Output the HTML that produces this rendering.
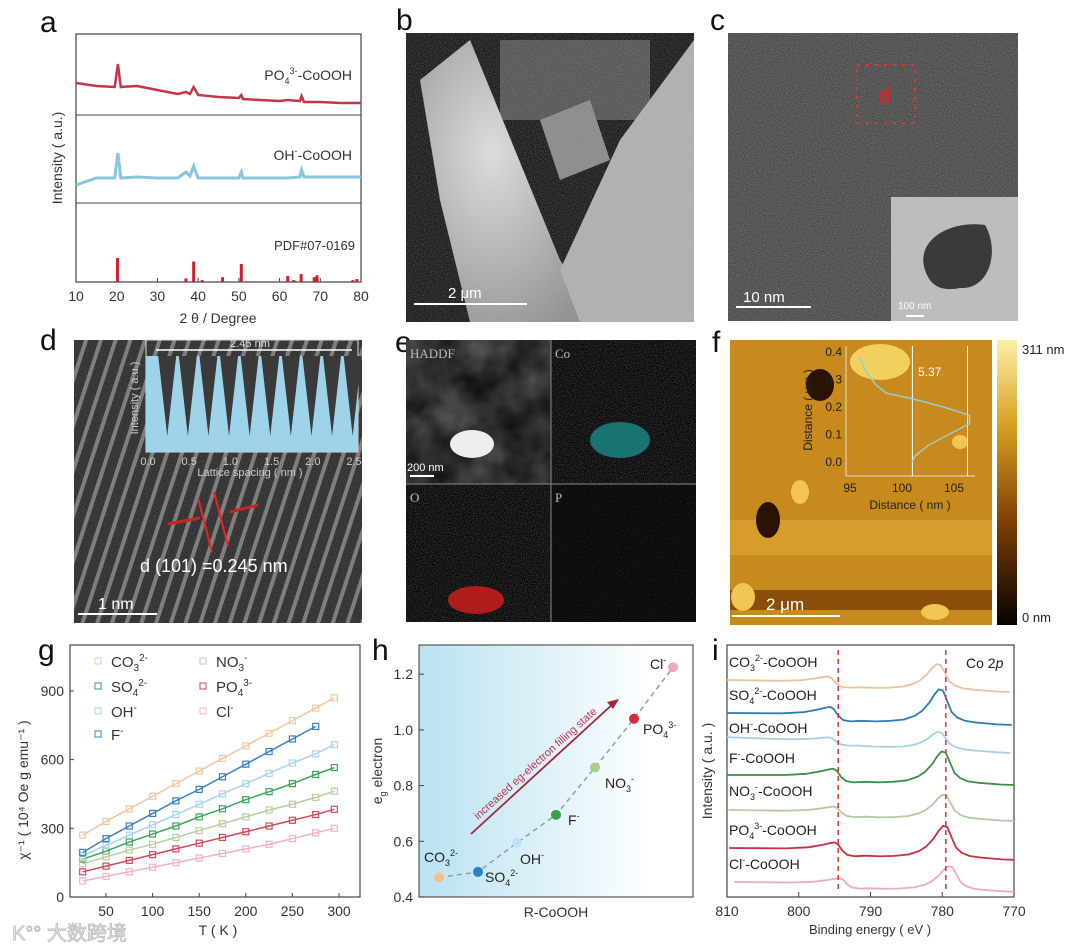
<!DOCTYPE html>
<html><head><meta charset="utf-8"><style>
html,body{margin:0;padding:0;background:#fff}
svg{display:block;font-family:"Liberation Sans",Arial,sans-serif}
</style></head><body>
<svg id="fig" width="1080" height="949" viewBox="0 0 1080 949" xmlns="http://www.w3.org/2000/svg">
<defs>
<filter id="noise" x="0" y="0" width="100%" height="100%"><feTurbulence type="fractalNoise" baseFrequency="0.9" numOctaves="2" seed="3"/><feColorMatrix type="matrix" values="0 0 0 0 0.5 0 0 0 0 0.5 0 0 0 0 0.5 0 0 0 1.2 -0.4"/></filter>
<filter id="blob" x="0" y="0" width="100%" height="100%"><feTurbulence type="fractalNoise" baseFrequency="0.03" numOctaves="3" seed="7"/><feColorMatrix type="saturate" values="0"/></filter>
<pattern id="stripes" width="14" height="14" patternUnits="userSpaceOnUse" patternTransform="rotate(18)"><rect width="14" height="14" fill="#2e2e2e"/><rect x="3" width="4" height="14" fill="#7a7a7a"/></pattern>
<linearGradient id="hbg" x1="0" x2="1"><stop offset="0" stop-color="#b9e2f2"/><stop offset="0.85" stop-color="#ffffff"/></linearGradient>
<linearGradient id="cbar" x1="0" y1="1" x2="0" y2="0"><stop offset="0" stop-color="#050200"/><stop offset="0.35" stop-color="#7a3d05"/><stop offset="0.7" stop-color="#d9a021"/><stop offset="1" stop-color="#fbf0a8"/></linearGradient>
<radialGradient id="semg" cx="0.4" cy="0.4" r="0.7"><stop offset="0" stop-color="#e0e0e0"/><stop offset="1" stop-color="#909090"/></radialGradient>
<clipPath id="iclip"><rect x="727" y="645" width="287" height="252"/></clipPath>
</defs>

<g font-size="30" fill="#111">
<text x="40" y="32">a</text><text x="396" y="30">b</text><text x="710" y="30">c</text>
<text x="40" y="350">d</text><text x="395" y="352">e</text><text x="712" y="352">f</text>
<text x="38" y="660">g</text><text x="372" y="660">h</text><text x="712" y="660">i</text>
</g>

<g id="pa">
<rect x="76" y="34" width="285" height="248" fill="none" stroke="#444" stroke-width="1.2"/>
<line x1="76" y1="115" x2="361" y2="115" stroke="#444"/>
<line x1="76" y1="203" x2="361" y2="203" stroke="#444"/>
<text x="352" y="80" font-size="14" text-anchor="end" fill="#333">PO<tspan font-size="9" dy="4">4</tspan><tspan font-size="9" dy="-10">3-</tspan><tspan dy="6">-CoOOH</tspan></text>
<text x="352" y="160" font-size="14" text-anchor="end" fill="#333">OH<tspan font-size="9" dy="-6">-</tspan><tspan dy="6">-CoOOH</tspan></text>
<text x="355" y="250" font-size="13" text-anchor="end" fill="#333">PDF#07-0169</text>
<text transform="translate(62,158) rotate(-90)" font-size="14" text-anchor="middle" fill="#333">Intensity ( a.u.)</text>
<text x="218" y="323" font-size="14" text-anchor="middle" fill="#333">2 θ / Degree</text>
</g>

<g>
<rect x="406" y="33" width="288" height="289" fill="#1a1a1a"/>
<rect x="500" y="40" width="150" height="80" fill="#555"/>
<polygon points="420,80 470,40 560,260 600,322 470,322 440,200" fill="url(#semg)"/>
<polygon points="560,270 620,140 694,40 694,322 580,322" fill="#b0b0b0"/>
<polygon points="540,120 590,100 610,160 560,180" fill="#8a8a8a"/>
<rect x="406" y="33" width="288" height="289" filter="url(#noise)" opacity="0.5"/>
<line x1="414" y1="304" x2="527" y2="304" stroke="#fff" stroke-width="2"/>
<text x="448" y="298" font-size="15" fill="#fff">2 μm</text>
</g>

<g>
<rect x="728" y="33" width="290" height="288" fill="#4a4a4a"/>
<rect x="728" y="33" width="290" height="288" filter="url(#noise)" opacity="0.6"/>
<rect x="857" y="65" width="58" height="58" fill="none" stroke="#d33" stroke-width="2" stroke-dasharray="3,6"/>
<text x="878" y="103" font-size="20" fill="#d22" font-weight="bold">d</text>
<rect x="891" y="197" width="127" height="124" fill="#bdbdbd"/>
<path d="M925,270 C915,240 950,220 985,225 C1000,250 990,290 960,288 C940,292 930,285 925,270Z" fill="#3a3a3a"/>
<line x1="906" y1="316" x2="924" y2="316" stroke="#fff" stroke-width="2"/>
<text x="898" y="309" font-size="10" fill="#fff">100 nm</text>
<line x1="736" y1="307" x2="811" y2="307" stroke="#fff" stroke-width="2"/>
<text x="743" y="302" font-size="15" fill="#fff">10 nm</text>
</g>

<g>
<rect x="74" y="340" width="288" height="283" fill="url(#stripes)"/>
<rect x="74" y="340" width="288" height="283" filter="url(#noise)" opacity="0.35"/>
<rect x="146" y="340" width="212" height="112" fill="none" stroke="#ddd"/>
<g id="dspikes"></g>
<line x1="156" y1="350" x2="352" y2="350" stroke="#fff" stroke-width="1.5"/>
<text x="250" y="347" font-size="11" fill="#ddd" text-anchor="middle">2.45 nm</text>
<text x="250" y="476" font-size="11" fill="#ccc" text-anchor="middle">Lattice spacing ( nm )</text>
<text transform="translate(138,398) rotate(-90)" font-size="11" fill="#ccc" text-anchor="middle">Intensity ( a.u.)</text>
<line x1="198" y1="498" x2="212" y2="552" stroke="#e22" stroke-width="2"/>
<line x1="214" y1="492" x2="228" y2="546" stroke="#e22" stroke-width="2"/>
<line x1="168" y1="524" x2="200" y2="518" stroke="#c22" stroke-width="3"/>
<line x1="258" y1="505" x2="230" y2="512" stroke="#c22" stroke-width="3"/>
<text x="140" y="572" font-size="18" fill="#fff">d (101) =0.245 nm</text>
<line x1="78" y1="614" x2="157" y2="614" stroke="#fff" stroke-width="2"/>
<text x="98" y="609" font-size="16" fill="#fff">1 nm</text>
</g>

<g>
<rect x="406" y="340" width="290" height="282" fill="#050505"/>
<rect x="406" y="340" width="145" height="144" filter="url(#blob)" opacity="0.45"/>
<ellipse cx="472" cy="444" rx="22" ry="14" fill="#eee"/>
<rect x="551" y="340" width="145" height="144" fill="#00b0b0" filter="url(#noise)" opacity="0.5"/>
<ellipse cx="620" cy="440" rx="30" ry="18" fill="#1a8a8a" opacity="0.8"/>
<rect x="406" y="484" width="145" height="138" fill="#c01010" filter="url(#noise)" opacity="0.5"/>
<ellipse cx="476" cy="600" rx="28" ry="14" fill="#b01c1c"/>
<rect x="551" y="484" width="145" height="138" fill="#aaa020" filter="url(#noise)" opacity="0.25"/>
<line x1="551" y1="340" x2="551" y2="622" stroke="#888"/><line x1="406" y1="484" x2="696" y2="484" stroke="#888"/>
<text x="410" y="358" font-size="13" fill="#bbb" font-family="Liberation Serif,serif">HADDF</text>
<text x="555" y="358" font-size="13" fill="#bbb" font-family="Liberation Serif,serif">Co</text>
<text x="410" y="502" font-size="13" fill="#bbb" font-family="Liberation Serif,serif">O</text>
<text x="555" y="502" font-size="13" fill="#bbb" font-family="Liberation Serif,serif">P</text>
<text x="407" y="471" font-size="11" fill="#fff">200 nm</text>
<line x1="410" y1="476" x2="434" y2="476" stroke="#fff" stroke-width="2"/>
</g>

<g>
<rect x="730" y="340" width="262" height="285" fill="#c88a1c"/>
<rect x="730" y="590" width="262" height="20" fill="#8a4d0a"/>
<rect x="730" y="520" width="262" height="35" fill="#d79c2a"/>
<ellipse cx="880" cy="362" rx="30" ry="18" fill="#f3cf60"/>
<ellipse cx="820" cy="385" rx="14" ry="16" fill="#2a1205"/>
<ellipse cx="768" cy="520" rx="12" ry="18" fill="#2a1205"/>
<ellipse cx="800" cy="492" rx="9" ry="12" fill="#f2c654"/>
<ellipse cx="743" cy="597" rx="12" ry="14" fill="#f2c654"/>
<ellipse cx="960" cy="442" rx="8" ry="7" fill="#f2c654"/>
<ellipse cx="935" cy="612" rx="14" ry="8" fill="#f2c654"/>
<rect x="997" y="340" width="20" height="285" fill="url(#cbar)"/>
<text x="1022" y="354" font-size="13" fill="#222">311 nm</text>
<text x="1022" y="622" font-size="13" fill="#222">0 nm</text>
<line x1="732" y1="616" x2="840" y2="616" stroke="#fff" stroke-width="2"/>
<text x="766" y="610" font-size="17" fill="#fff">2 μm</text>
<g id="finset"></g>
</g>

<g id="pg"></g>
<g id="ph"></g>
<g id="pi"></g>

<text x="12" y="940" font-size="20" fill="#e8e8e8" stroke="#bbb" stroke-width="0.8" font-family="Liberation Sans,'Noto Sans CJK SC',sans-serif">K°° 大数跨境</text>
</svg>
<script>
const NS='http://www.w3.org/2000/svg';
function mk(parent,tag,attrs,text){const e=document.createElementNS(NS,tag);for(const k in attrs)e.setAttribute(k,attrs[k]);if(text!==undefined)e.textContent=text;parent.appendChild(e);return e;}

const xrdAngles=[10,15,19.5,20.3,21,25,30,35,37,38,38.9,40,45,50,50.6,51,55,60,62,65,65.4,66,70,75,80];
const po4Trace=[83,86,87,64,87,86,90,94,92,94,87,95,97,98,95,99,100,101,100,101,96,102,102,103,103];
const ohTrace=[185,178,178,153,178,177,178,178,172,176,166,178,178,178,172,178,178,178,178,177,170,177,177,177,177];
const pdfPos=[20.2,37,38.9,41,46,50.6,62,63.5,65.3,68.5,69.2,78,79];
const pdfInt=[100,15,85,8,20,75,25,8,33,20,28,8,12];
(function(){
 const g=document.getElementById('pa');
 const X=v=>76+(v-10)*285/70;
 const py=v=>282-v*0.24;
 const xt=[10,20,30,40,50,60,70,80];
 xt.forEach(t=>{const tl=mk(g,'line',{x1:X(t),x2:X(t),y1:282,y2:278,stroke:'#444'});
 
 const tx=mk(g,'text',{x:X(t),y:301,'font-size':14,'text-anchor':'middle',fill:'#333'},t);
 });
 const l1=mk(g,'polyline',{points:xrdAngles.map((a,i)=>X(a)+','+po4Trace[i]).join(' '),fill:'none',stroke:'#c0374a','stroke-width':2.5});
 
 const l2=mk(g,'polyline',{points:xrdAngles.map((a,i)=>X(a)+','+ohTrace[i]).join(' '),fill:'none',stroke:'#86c6de','stroke-width':3});
 
 pdfPos.forEach((p,i)=>{const b=mk(g,'rect',{x:X(p)-1.5,y:py(pdfInt[i]),width:3,height:282-py(pdfInt[i]),fill:'#d02030'});
 });
})();

const latticePeaks=[0.1,0.35,0.6,0.85,1.1,1.35,1.6,1.85,2.1,2.35];
(function(){
 const g=document.getElementById('dspikes');
 const X=v=>148+v*82.4;
 const bg=mk(g,'rect',{x:146,y:356,width:212,height:96,fill:'#9fd3ea'});
 
 latticePeaks.forEach(p=>{const v=mk(g,'polygon',{points:`${X(p)+2},356 ${X(p)+20},356 ${X(p)+11},436`,fill:'#3a3a3a'});
 });
 [0,0.5,1,1.5,2,2.5].forEach(t=>{const tx=mk(g,'text',{x:X(t),y:465,'font-size':11,fill:'#ccc','text-anchor':'middle'},t.toFixed(1));
 });
})();

const profDist=[0.38,0.33,0.28,0.25,0.23,0.2,0.17,0.14,0.1,0.06,0.02,0.0];
const profH=[96,96.5,97.5,98.5,101,104,106.5,106.5,104.5,102.5,101.2,101];
(function(){
 const g=document.getElementById('finset');
 const X=v=>850+(v-95)*10.4, Y=v=>462-v*275;
 mk(g,'line',{x1:846,y1:346,x2:846,y2:476,stroke:'#ddd'});
 mk(g,'line',{x1:846,y1:476,x2:975,y2:476,stroke:'#ddd'});
 [0,0.1,0.2,0.3,0.4].forEach(t=>{const tx=mk(g,'text',{x:842,y:Y(t)+4,'font-size':12,fill:'#222','text-anchor':'end'},t.toFixed(1));
 });
 [95,100,105].forEach(t=>{const tx=mk(g,'text',{x:X(t),y:492,'font-size':12,fill:'#222','text-anchor':'middle'},t);
 });
 mk(g,'text',{x:910,y:509,'font-size':12,fill:'#222','text-anchor':'middle'},'Distance ( nm )');
 mk(g,'text',{transform:'translate(812,410) rotate(-90)','font-size':12,fill:'#222','text-anchor':'middle'},'Distance ( μm )');
 mk(g,'line',{x1:X(101),y1:346,x2:X(101),y2:476,stroke:'#fff'});
 mk(g,'line',{x1:X(106.3),y1:346,x2:X(106.3),y2:476,stroke:'#fff'});
 mk(g,'text',{x:918,y:376,'font-size':12,fill:'#fff'},'5.37');
 const pl=mk(g,'polyline',{points:profDist.map((d,i)=>X(profH[i])+','+Y(d)).join(' '),fill:'none',stroke:'#9cc',"stroke-width":1.5});
 
})();

const gTemps=[25,50,75,100,125,150,175,200,225,250,275,295];
const gNames=['CO3','SO4','OH','F','NO3','PO4','Cl'];
const gColors=['#f0c8a0','#3aa55a','#a8d4ea','#3b7fc0','#b5d0a0','#d2495a','#efb3c4'];
const sCO3=[270,330,385,440,495,550,605,660,715,770,825,870];
const sSO4=[165,200,240,275,310,350,385,425,460,495,535,565];
const sOH=[180,225,270,315,360,405,450,495,540,585,625,665];
const sF=[195,255,310,365,420,470,525,580,635,690,745,null];
const sNO3=[145,175,205,230,260,290,320,350,380,405,435,462];
const sPO4=[110,135,160,185,210,235,260,285,310,335,360,383];
const sCl=[70,90,110,130,150,170,190,210,230,255,280,300];
const gSeries=[sCO3,sSO4,sOH,sF,sNO3,sPO4,sCl];
const gXTicks=[50,100,150,200,250,300];
const gYTicks=[0,300,600,900];
(function(){
 const g=document.getElementById('pg');
 const X=t=>106+(t-50)*0.932, Y=v=>897-v*0.229;
 const fr=mk(g,'rect',{x:70,y:645,width:290,height:252,fill:'none',stroke:'#444','stroke-width':1.2});
 
 gXTicks.forEach(t=>{mk(g,'line',{x1:X(t),x2:X(t),y1:897,y2:893,stroke:'#444'});
 const tx=mk(g,'text',{x:X(t),y:916,'font-size':14,'text-anchor':'middle',fill:'#333'},t);
 });
 gYTicks.forEach(t=>{mk(g,'line',{x1:70,x2:74,y1:Y(t),y2:Y(t),stroke:'#444'});
 const tx=mk(g,'text',{x:64,y:Y(t)+5,'font-size':14,'text-anchor':'end',fill:'#333'},t);
 });
 mk(g,'text',{x:218,y:935,'font-size':14,'text-anchor':'middle',fill:'#333'},'T ( K )');
 mk(g,'text',{transform:'translate(28,790) rotate(-90)','font-size':14,'text-anchor':'middle',fill:'#333'},'χ⁻¹ ( 10⁴ Oe g emu⁻¹ )');
 gSeries.forEach((s,si)=>{
  const pts=[];s.forEach((v,i)=>{if(v!==null)pts.push([X(gTemps[i]),Y(v)]);});
  const ln=mk(g,'polyline',{points:pts.map(p=>p.join(',')).join(' '),fill:'none',stroke:gColors[si],'stroke-width':1.5});
  
  pts.forEach(p=>{const m=mk(g,'rect',{x:p[0]-3,y:p[1]-3,width:6,height:6,fill:'none',stroke:gColors[si],'stroke-width':1.2});
  });
 });
 const leg=[['CO','3','2-',0,95,667],['SO','4','2-',1,95,692],['OH','','-',2,95,717],['F','','-',3,95,740],['NO','3','-',4,200,667],['PO','4','3-',5,200,692],['Cl','','-',6,200,717]];
 leg.forEach(l=>{const m=mk(g,'rect',{x:l[4],y:l[5]-9,width:6,height:6,fill:'none',stroke:gColors[l[3]]});
 
 const t=mk(g,'text',{x:l[4]+16,y:l[5],'font-size':15,fill:'#333'});
 
 t.appendChild(document.createTextNode(l[0]));
 if(l[1]){mk(t,'tspan',{'font-size':10,dy:4},l[1]);mk(t,'tspan',{'font-size':10,dy:-10},l[2]);}else{mk(t,'tspan',{'font-size':10,dy:-6},l[2]);}
 });
})();

const hCats=['CO3','SO4','OH','F','NO3','PO4','Cl'];
const hVals=[0.47,0.49,0.595,0.695,0.865,1.04,1.225];
const hColors=['#f2c08e','#2a80c0','#bfe3f2','#3aa04a','#a8d08a','#d4283c','#f0a8bc'];
const hYTicks=[0.4,0.6,0.8,1.0,1.2];
(function(){
 const g=document.getElementById('ph');
 const X=i=>439+i*39, Y=v=>897-(v-0.4)/0.2*55.7;
 const bg=mk(g,'rect',{x:419,y:645,width:274,height:252,fill:'url(#hbg)',stroke:'#555','stroke-width':1.2});
 
 hYTicks.forEach(t=>{mk(g,'line',{x1:419,x2:424,y1:Y(t),y2:Y(t),stroke:'#444'});
 const tx=mk(g,'text',{x:413,y:Y(t)+5,'font-size':14,'text-anchor':'end',fill:'#333'},t.toFixed(1));
 });
 mk(g,'text',{x:556,y:917,'font-size':14,'text-anchor':'middle',fill:'#333'},'R-CoOOH');
 const yt=mk(g,'text',{transform:'translate(382,771) rotate(-90)','font-size':14,'text-anchor':'middle',fill:'#333'});
 yt.appendChild(document.createTextNode('e'));mk(yt,'tspan',{'font-size':9,dy:4},'g');mk(yt,'tspan',{dy:-4},' electron');
 const dl=mk(g,'polyline',{points:hVals.map((v,i)=>X(i)+','+Y(v)).join(' '),fill:'none',stroke:'#8aa0a8','stroke-width':1.5,'stroke-dasharray':'5,4'});
 
 hVals.forEach((v,i)=>{const c=mk(g,'circle',{cx:X(i),cy:Y(v),r:5,fill:hColors[i]});
 });
 const labs=[['CO','3','2-',424,862],['SO','4','2-',485,882],['OH','','-',520,864],['F','','-',568,825],['NO','3','-',605,788],['PO','4','3-',643,734],['Cl','','-',650,669]];
 labs.forEach(l=>{const t=mk(g,'text',{x:l[3],y:l[4],'font-size':14,fill:'#222'});
 
 t.appendChild(document.createTextNode(l[0]));
 if(l[1]){mk(t,'tspan',{'font-size':9,dy:4},l[1]);mk(t,'tspan',{'font-size':9,dy:-10},l[2]);}else mk(t,'tspan',{'font-size':9,dy:-6},l[2]);});
 const ar=mk(g,'line',{x1:471,y1:834,x2:615,y2:702,stroke:'#a0283a','stroke-width':1.8});
 
 mk(g,'polygon',{points:'619,699 607,702 613,709',fill:'#a0283a'});
 mk(g,'text',{transform:'translate(478,820) rotate(-42)','font-size':11,fill:'#c0304a'},'increased eg-electron filling state');
})();

const xpsE=[810,806,802,799,797,796,795.3,794.8,794.2,793.5,792.5,791,789,787,785,783.5,782.5,781.5,780.8,780.2,779.6,779,778.4,777.6,776.5,775,772,770];
const xpsProfile=[0,1,2,4,7,9,10,8,2,-2,-3,-2,-2,-1,1,5,10,18,26,31,30,20,10,5,2,1,0,0];
const iNames=['CO3','SO4','OH','F','NO3','PO4','Cl'];
const iColors=['#e6c4a0','#2f7bb0','#a8d0e2','#3a9048','#b5c9a4','#c83040','#e8aebc'];
const iBaseLeft=[680,713,737,775,810,848,882];
const iBaseRight=[692,725,753,785,821,860,892];
const iShift=[-0.6,-0.3,-0.5,0.1,0.2,0.3,1.0];
const iScale=[0.8,1.05,0.55,1.0,0.75,1.0,0.75];
const iXTicks=[810,800,790,780,770];
(function(){
 const g=document.getElementById('pi');
 const X=e=>727+(810-e)*7.175;
 const fr=mk(g,'rect',{x:727,y:645,width:287,height:252,fill:'none',stroke:'#444','stroke-width':1.2});
 
 iXTicks.forEach(t=>{mk(g,'line',{x1:X(t),x2:X(t),y1:897,y2:892,stroke:'#444'});
 const tx=mk(g,'text',{x:X(t),y:916,'font-size':14,'text-anchor':'middle',fill:'#333'},t);
 });
 mk(g,'text',{x:870,y:934,'font-size':13,'text-anchor':'middle',fill:'#333'},'Binding energy ( eV )');
 mk(g,'text',{transform:'translate(712,771) rotate(-90)','font-size':14,'text-anchor':'middle',fill:'#333'},'Intensity ( a.u. )');
 const ct=mk(g,'text',{x:966,y:668,'font-size':14,fill:'#222'},'Co 2');mk(ct,'tspan',{'font-style':'italic'},'p');
 const cg=mk(g,'g',{'clip-path':'url(#iclip)'});
 iNames.forEach((n,si)=>{
  const pts=xpsE.map((e,i)=>{const f=(810-e)/40;const base=iBaseLeft[si]+(iBaseRight[si]-iBaseLeft[si])*f;
   return X(e-iShift[si]).toFixed(1)+','+(base-xpsProfile[i]*iScale[si]).toFixed(1);});
  const pl=mk(cg,'polyline',{points:pts.join(' '),fill:'none',stroke:iColors[si],'stroke-width':1.8,'stroke-linejoin':'round'});
  
 });
 [794.5,779.5].forEach(e=>{const d=mk(g,'line',{x1:X(e),x2:X(e),y1:650,y2:893,stroke:'#e0303a','stroke-width':1.5,'stroke-dasharray':'5,4'});
 });
 const labs=[['CO','3','2-',667],['SO','4','2-',700],['OH','','-',733],['F','','-',763],['NO','3','-',796],['PO','4','3-',835],['Cl','','-',869]];
 labs.forEach(l=>{const t=mk(g,'text',{x:729,y:l[3],'font-size':14,fill:'#222'});
 
 t.appendChild(document.createTextNode(l[0]));
 if(l[1]){mk(t,'tspan',{'font-size':9,dy:4},l[1]);mk(t,'tspan',{'font-size':9,dy:-10},l[2]);mk(t,'tspan',{dy:6},'-CoOOH');}
 else{mk(t,'tspan',{'font-size':9,dy:-6},l[2]);mk(t,'tspan',{dy:6},'-CoOOH');}});
})();
</script>
</body></html>
